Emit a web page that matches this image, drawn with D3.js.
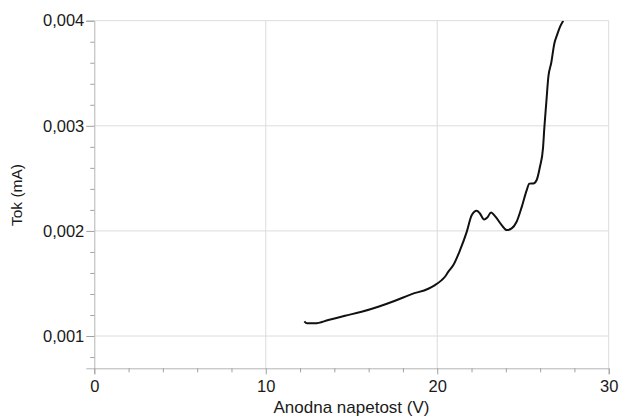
<!DOCTYPE html>
<html>
<head>
<meta charset="utf-8">
<script src="https://cdn.jsdelivr.net/npm/d3@7"></script>
<style>
  body { margin: 0; background: #fff; }
  text { font-family: "Liberation Sans", Arial, sans-serif; fill: #1a1a1a; }
</style>
</head>
<body>
<div id="chart"></div>
<script>
// anode voltage (V) vs current (mA)
const voltage = [12.25, 12.4, 12.87, 13.65, 14.62, 15.59, 16.56, 17.54, 18.51, 19.48, 19.87, 20.26, 20.45, 20.64,
  20.94, 21.33, 21.72, 22.01, 22.30, 22.49, 22.73, 22.92, 23.14, 23.37, 23.76, 24.05, 24.34, 24.63, 24.93,
  25.22, 25.37, 25.60, 25.80, 25.99, 26.17, 26.25, 26.36, 26.48, 26.65, 26.83, 27.0, 27.16, 27.35];
const current = [0.001140, 0.001122, 0.001121, 0.001152, 0.001193, 0.001231, 0.001279, 0.001336, 0.001399, 0.001450,
  0.001485, 0.001532, 0.001564, 0.001611, 0.001675, 0.001817, 0.001991, 0.002150, 0.002191, 0.002166, 0.002109,
  0.002128, 0.002176, 0.002141, 0.002055, 0.002008, 0.002024, 0.002087, 0.002229, 0.002388, 0.002450, 0.002452,
  0.002485, 0.002610, 0.002790, 0.002990, 0.003220, 0.003465, 0.003600, 0.003783, 0.003870, 0.003941, 0.004];

const xMajor = [0, 10, 20, 30];
const xMinor = [2, 4, 6, 8, 12, 14, 16, 18, 22, 24, 26, 28];
const yMajor = [0.001, 0.002, 0.003, 0.004];
const yMinor = [0.0008, 0.0012, 0.0014, 0.0016, 0.0018, 0.0022, 0.0024, 0.0026, 0.0028,
  0.0032, 0.0034, 0.0036, 0.0038];

const xLabel = 'Anodna napetost (V)';
const yLabel = 'Tok (mA)';

const W = 620, H = 416;
const margin = { top: 20.7, right: 11.3, bottom: 47.7, left: 94.3 };
const width = W - margin.left - margin.right;
const height = H - margin.top - margin.bottom;

const svg = d3.select('#chart').append('svg')
  .attr('width', W).attr('height', H);
const g = svg.append('g').attr('transform', `translate(${margin.left},${margin.top})`);

const x = d3.scaleLinear().domain([0, 30]).range([0, width]);
const y = d3.scaleLinear().domain([0.000693, 0.004]).range([height, 0]);

const fmt = d => d3.format('.3f')(d).replace('.', ',');

// grid
g.append('g').selectAll('line').data(xMajor.slice(1)).join('line')
  .attr('x1', d => x(d)).attr('x2', d => x(d)).attr('y1', 0).attr('y2', height)
  .attr('stroke', '#dcdcdc').attr('stroke-width', 1);
g.append('g').selectAll('line').data(yMajor).join('line')
  .attr('x1', 0).attr('x2', width).attr('y1', d => y(d)).attr('y2', d => y(d))
  .attr('stroke', '#dcdcdc').attr('stroke-width', 1);

// y axis: major + minor ticks
g.append('g').attr('class', 'y-axis')
  .call(d3.axisLeft(y).tickValues(yMajor).tickSize(8).tickPadding(2).tickFormat(fmt));
g.append('g').attr('class', 'y-minor')
  .call(d3.axisLeft(y).tickValues(yMinor).tickSize(4).tickFormat(''));

// x axis
g.append('g').attr('class', 'x-axis').attr('transform', `translate(0,${height})`)
  .call(d3.axisBottom(x).tickValues(xMajor).tickSize(6).tickPadding(6).tickFormat(d3.format('d')));
g.append('g').attr('class', 'x-minor').attr('transform', `translate(0,${height})`)
  .call(d3.axisBottom(x).tickValues(xMinor).tickSize(4).tickFormat(''));

svg.selectAll('.domain').attr('stroke', '#b4b4b4');
svg.selectAll('.tick line').attr('stroke', '#a0a0a0');
svg.selectAll('.y-minor .domain, .x-minor .domain').remove();
svg.selectAll('.tick text').attr('fill', '#1a1a1a').style('font-size', '16.5px')
  .style('font-family', '"Liberation Sans", Arial, sans-serif');

// clip + data line
g.append('clipPath').attr('id', 'clip').append('rect')
  .attr('x', 0).attr('y', 0).attr('width', width).attr('height', height);

const line = d3.line()
  .x((d, i) => x(voltage[i]))
  .y(d => y(d))
  .curve(d3.curveMonotoneX);

g.append('path')
  .datum(current)
  .attr('clip-path', 'url(#clip)')
  .attr('d', line)
  .attr('fill', 'none')
  .attr('stroke', '#111')
  .attr('stroke-width', 2)
  .attr('stroke-linejoin', 'round');

// titles
g.append('text')
  .attr('x', width / 2).attr('y', height + 45)
  .attr('text-anchor', 'middle')
  .style('font-size', '17px')
  .text(xLabel);

svg.append('text')
  .attr('transform', `translate(22,195) rotate(-90)`)
  .attr('text-anchor', 'middle')
  .style('font-size', '15.5px')
  .text(yLabel);
</script>
</body>
</html>
